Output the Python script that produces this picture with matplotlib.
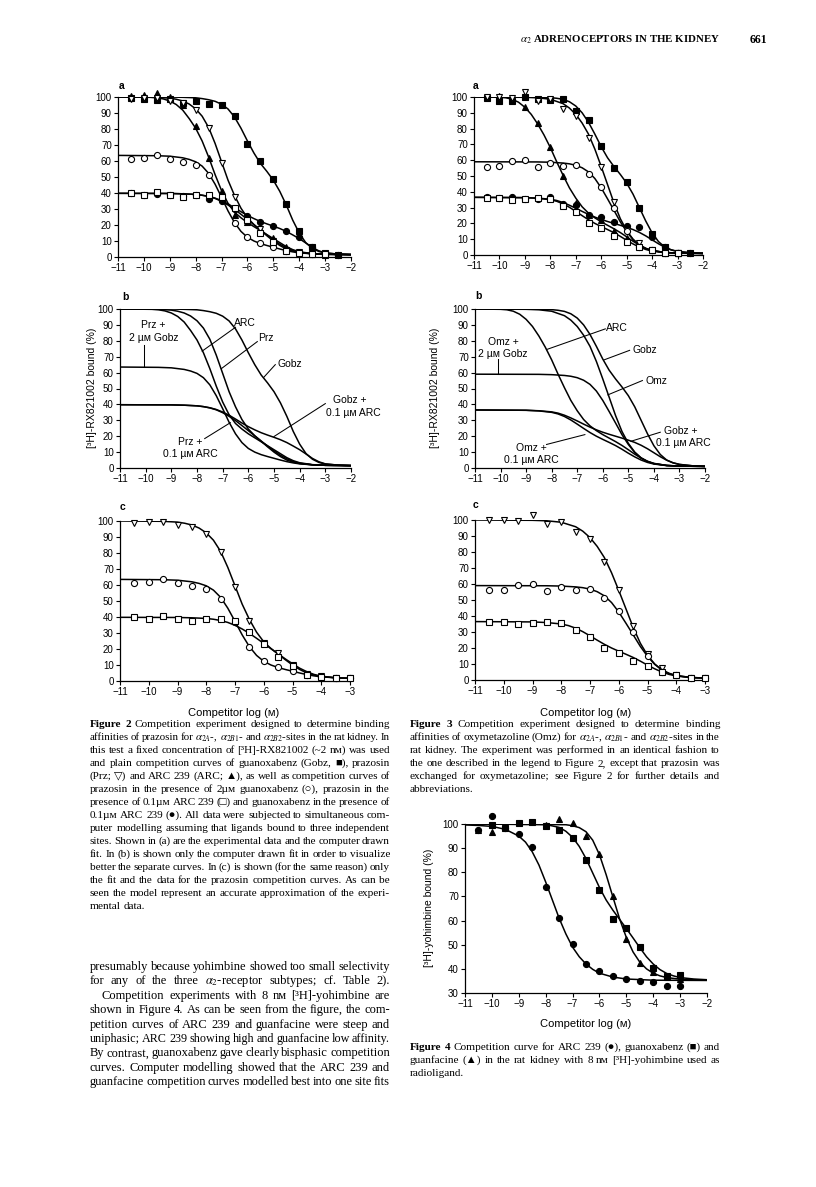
import matplotlib
matplotlib.use('Agg')
import matplotlib.pyplot as plt

W, H = 816, 1187
SANS = ['Liberation Sans', 'DejaVu Sans']
SERIF = ['Liberation Serif', 'DejaVu Sans']
plt.rcParams['font.family'] = SANS
plt.rcParams['mathtext.fontset'] = 'stix'

# ---------------- data (log M, % bound) ----------------
conc = [-10.5, -10, -9.5, -9, -8.5, -8, -7.5, -7, -6.5, -6, -5.5, -5, -4.5, -4, -3.5, -3]
conc_long = conc + [-2.5]

# Figure 2: prazosin experiment
gobz2_y = [99.5, 99, 98, 99, 96.5, 97.5, 95.5, 95, 88, 70.5, 60, 49, 33, 16.5, 6.5, 2.5, 1.5]
arc2_y = [100.5, 101, 102.5, 100, 95, 82, 62, 41, 26, 22, 17.5, 12, 6, 3, 2, 1.5]
prz_y = [98.5, 99.5, 99.5, 97.5, 96, 92, 80.5, 59, 37.5, 24, 17.5, 10, 4.5, 3, 2, 2]
prz_gobz_y = [61.5, 62, 63.5, 61, 59.5, 57.5, 51.5, 37, 21, 12.5, 8.5, 6, 3.5, 2.5, 2, 2]
prz_arc_y = [40, 39, 40.5, 38.5, 37.5, 38.5, 39, 37.5, 30.5, 23, 15, 9.5, 4, 2.5, 2, 2]
gobz_arc2_y = [40, 38.5, 39.5, 38.5, 38, 38.5, 36.5, 35, 30, 25.5, 22, 19.5, 16.5, 12.5, 6.5, 2, 1.5]

# computer drawn fits
gobz2_fx = [-11, -9, -8.5, -8, -7.75, -7.5, -7.25, -7, -6.75, -6.5, -6.25, -6, -5.75, -5.5, -5.25, -5,
            -4.75, -4.5, -4.25, -4, -3.75, -3.5, -3.25, -3, -2.5, -2]
gobz2_fy = [100, 100, 99.8, 99.5, 99, 98.3, 97.3, 95.5, 92.5, 87.5, 80.5, 72.5, 65, 58.5, 53.5, 48,
            41, 32.5, 23, 15, 9, 5.5, 3.5, 2.5, 1.8, 1.5]
prz_fx = [-11, -9.5, -9, -8.75, -8.5, -8.25, -8, -7.75, -7.5, -7.25, -7, -6.75, -6.5, -6.25, -6, -5.75,
          -5.5, -5.25, -5, -4.75, -4.5, -4.25, -4, -3.5, -3, -2]
prz_fy = [100, 99.8, 99.3, 98.6, 97.5, 95.6, 92.6, 88, 81, 71, 59.5, 48, 38.5, 30.5, 24.5, 20.3,
          16.8, 13.3, 10, 7.2, 5, 3.7, 2.8, 2, 1.7, 1.5]
arc2_fx = [-11, -9.75, -9.5, -9.25, -9, -8.75, -8.5, -8.25, -8, -7.75, -7.5, -7.25, -7, -6.75, -6.5,
           -6.25, -6, -5.75, -5.5, -5.25, -5, -4.75, -4.5, -4.25, -4, -3.5, -3, -2]
arc2_fy = [100, 99.8, 99.5, 98.8, 97.5, 95.3, 91.8, 86.5, 80.5, 72.5, 62.5, 51.5, 41.5, 33.5, 28,
           24.5, 21.5, 19, 16.5, 14, 11.5, 9, 6.5, 4.6, 3.3, 2.1, 1.7, 1.5]
prz_gobz_fx = [-11, -9.5, -9, -8.5, -8.25, -8, -7.75, -7.5, -7.25, -7, -6.75, -6.5, -6.25, -6, -5.75,
               -5.5, -5.25, -5, -4.75, -4.5, -4.25, -4, -3.5, -3, -2]
prz_gobz_fy = [63.5, 63.3, 63, 62, 61, 59.5, 56.8, 52.3, 45.5, 37.3, 28.8, 21.5, 16, 12.3, 10,
               8.4, 7.2, 6.1, 5, 4, 3.2, 2.6, 2, 1.7, 1.5]
prz_arc_fx = [-11, -9, -8.5, -8, -7.75, -7.5, -7.25, -7, -6.75, -6.5, -6.25, -6, -5.75, -5.5, -5.25,
              -5, -4.75, -4.5, -4.25, -4, -3.5, -3, -2]
prz_arc_fy = [39.8, 39.7, 39.5, 39.1, 38.6, 37.8, 36.6, 34.8, 32.5, 29.8, 26.7, 23.5, 20.2, 17, 13.8,
              10.8, 8, 5.8, 4.1, 3, 2, 1.7, 1.5]
gobz_arc2_fx = [-11, -9, -8.5, -8, -7.75, -7.5, -7.25, -7, -6.75, -6.5, -6.25, -6, -5.75, -5.5, -5.25,
                -5, -4.75, -4.5, -4.25, -4, -3.75, -3.5, -3.25, -3, -2.5, -2]
gobz_arc2_fy = [39.8, 39.7, 39.5, 39.1, 38.6, 37.9, 36.8, 35.2, 33.2, 30.8, 28.3, 26, 24, 22.2, 20.7,
                19.3, 17.8, 16, 13.8, 11.5, 8.8, 6, 3.9, 2.6, 1.8, 1.5]

# Figure 3: oxymetazoline experiment
gobz3_y = [99.5, 97.5, 97.5, 100, 99, 98, 98.5, 91, 85.5, 69, 55, 46, 30, 13.5, 5, 1.5, 1]
arc3_y = [100, 100.5, 99, 93.5, 83.5, 68.5, 50, 33, 25.5, 22, 15, 11, 6.5, 3, 1.5, 1]
omz_y = [100, 100, 99.5, 103, 97.5, 99, 92.5, 88, 74, 56, 33.5, 16, 7.5, 3, 1.5, 1.5]
omz_gobz_y = [56, 56.5, 59.5, 60, 55.5, 58, 56.5, 57, 51, 43, 30, 15, 5, 3, 1.5, 1.5]
omz_arc_y = [36, 36, 35, 35.5, 36, 35.5, 31, 27, 20, 17, 12, 8.5, 5, 3, 1.5, 1.5]
gobz_arc3_y = [36.5, 36, 37, 35.5, 35.5, 36.5, 32, 31.5, 25.5, 24, 21, 18.5, 17.5, 11.5, 5, 1.5, 1]

gobz3_fx = [-11, -8.5, -8, -7.75, -7.5, -7.25, -7, -6.75, -6.5, -6.25, -6, -5.75, -5.5, -5.25, -5,
            -4.75, -4.5, -4.25, -4, -3.75, -3.5, -3.25, -3, -2.5, -2]
gobz3_fy = [100, 99.9, 99.6, 99.2, 98.5, 97, 94.3, 90, 84, 76.5, 68.5, 61.5, 56, 51, 45.5,
            38.5, 30, 21.5, 14, 8.5, 5, 3.2, 2.2, 1.4, 1]
arc3_fx = [-11, -10, -9.75, -9.5, -9.25, -9, -8.75, -8.5, -8.25, -8, -7.75, -7.5, -7.25, -7, -6.75,
           -6.5, -6.25, -6, -5.75, -5.5, -5.25, -5, -4.75, -4.5, -4.25, -4, -3.5, -3, -2]
arc3_fy = [100, 99.8, 99.5, 98.6, 96.7, 93.5, 89, 83, 76, 68, 59, 50.5, 42.5, 36, 30.5,
           26.5, 23.5, 21, 18.8, 16.6, 14.2, 11.5, 8.7, 6.2, 4.2, 2.9, 1.6, 1.2, 1]
omz_fx = [-11, -9, -8.5, -8, -7.5, -7.25, -7, -6.75, -6.5, -6.25, -6, -5.75, -5.5, -5.25, -5, -4.75,
          -4.5, -4.25, -4, -3.5, -3, -2]
omz_fy = [100, 99.8, 99.5, 98.6, 95.8, 93, 89, 83.5, 76.5, 67, 56, 44.5, 33, 23, 15.5, 10,
          6.4, 4.2, 2.8, 1.6, 1.2, 1]
omz_gobz_fx = [-11, -8.5, -8, -7.5, -7.25, -7, -6.75, -6.5, -6.25, -6, -5.75, -5.5, -5.25, -5, -4.75,
               -4.5, -4.25, -4, -3.5, -3, -2]
omz_gobz_fy = [59, 58.9, 58.7, 58.2, 57.7, 56.8, 55.2, 52.6, 48.4, 42.5, 35.5, 28.3, 21, 14.8, 9.8,
               6.2, 4, 2.7, 1.6, 1.2, 1]
omz_arc_fx = [-11, -9, -8.5, -8, -7.75, -7.5, -7.25, -7, -6.75, -6.5, -6.25, -6, -5.75, -5.5, -5.25,
              -5, -4.75, -4.5, -4.25, -4, -3.5, -3, -2]
omz_arc_fy = [36.5, 36.3, 35.9, 35, 34, 32.4, 30.2, 27.6, 24.9, 22.3, 20, 18, 16.1, 14.1, 11.8,
              9.3, 7, 5, 3.5, 2.5, 1.5, 1.2, 1]
gobz_arc3_fx = [-11, -9, -8.5, -8, -7.75, -7.5, -7.25, -7, -6.75, -6.5, -6.25, -6, -5.75, -5.5, -5.25,
                -5, -4.75, -4.5, -4.25, -4, -3.75, -3.5, -3.25, -3, -2.5, -2]
gobz_arc3_fy = [36.5, 36.3, 36, 35.3, 34.5, 33.2, 31.5, 29.6, 27.6, 25.7, 24, 22.5, 21.2, 20, 18.8,
                17.5, 16.1, 14.3, 12.1, 9.6, 7.1, 4.9, 3.3, 2.3, 1.4, 1]

# Figure 4: [3H]-yohimbine
arc4_y = [97.5, 103.5, 98.5, 96, 90.5, 74, 61, 50.5, 42, 39, 37, 36, 35, 34.5, 33, 32.7]
gobz4_x = [-10, -9.5, -9, -8.5, -8, -7.5, -7, -6.5, -6, -5.5, -5, -4.5, -4, -3.5, -3]
gobz4_y = [99.5, 98.5, 100.5, 100.8, 99, 97.7, 94, 85, 72.5, 60.5, 57, 49, 40.5, 37, 37.5]
guan4_x = [-10.5, -10, -8, -7.5, -7, -6.5, -6, -5.5, -5, -4.5, -4, -3.5, -3]
guan4_y = [97.5, 96.5, 99.5, 102, 100.5, 95, 87.5, 70, 52.5, 42.5, 38.5, 36.5, 36]

arc4_fx = [-11, -10.5, -10, -9.5, -9, -8.75, -8.5, -8.25, -8, -7.75, -7.5, -7.25, -7, -6.75, -6.5,
           -6.25, -6, -5.5, -5, -4, -2]
arc4_fy = [99.6, 99.4, 99, 97.8, 95, 92.5, 88.5, 83, 76, 68.5, 61, 54.5, 49, 45, 42,
           39.8, 38.2, 36.6, 35.8, 35.3, 35.2]
gobz4_fx = [-11, -8, -7.5, -7.25, -7, -6.75, -6.5, -6.25, -6, -5.75, -5.5, -5.25, -5, -4.75, -4.5,
            -4.25, -4, -3.75, -3.5, -3.25, -3, -2.5, -2]
gobz4_fy = [100, 99.8, 98.6, 97, 94.5, 90.7, 85.7, 79.7, 73.7, 68.5, 64.3, 60.5, 56.7, 52.8, 48.8,
            45, 42, 39.7, 38.1, 37.1, 36.4, 35.8, 35.5]
guan4_fx = [-11, -7.25, -7, -6.75, -6.5, -6.25, -6, -5.75, -5.5, -5.25, -5, -4.75, -4.5, -4.25, -4,
            -3.75, -3.5, -3, -2]
guan4_fy = [100, 99.7, 99.3, 98.5, 96.8, 93.3, 87.3, 79, 69.8, 60.7, 53, 47, 42.8, 40, 38.2,
            37.1, 36.4, 35.7, 35.3]

# ---------------- text ----------------
cap2 = [
    "**Figure **2 Competition experiment designed to determine binding",
    r"affinities of prazosin for $\alpha_{2A}$-, $\alpha_{2B1}$- and $\alpha_{2B2}$-sites in the rat kidney. In",
    "this test a fixed concentration of [³H]-RX821002 (~2 nᴍ) was used",
    "and plain competition curves of guanoxabenz (Gobz, ■), prazosin",
    "(Prz; ▽) and ARC 239 (ARC; ▲), as well as competition curves of",
    "prazosin in the presence of 2µᴍ guanoxabenz (○), prazosin in the",
    "presence of 0.1µᴍ ARC 239 (□) and guanoxabenz in the presence of",
    "0.1µᴍ ARC 239 (●). All data were subjected to simultaneous com-",
    "puter modelling assuming that ligands bound to three independent",
    "sites. Shown in (a) are the experimental data and the computer drawn",
    "fit. In (b) is shown only the computer drawn fit in order to visualize",
    "better the separate curves. In (c) is shown (for the same reason) only",
    "the fit and the data for the prazosin competition curves. As can be",
    "seen the model represent an accurate approximation of the experi-",
    "mental data.",
]
cap3 = [
    "**Figure **3 Competition experiment designed to determine binding",
    r"affinities of oxymetazoline (Omz) for $\alpha_{2A}$-, $\alpha_{2B1}$- and $\alpha_{2B2}$-sites in the",
    "rat kidney. The experiment was performed in an identical fashion to",
    "the one described in the legend to Figure 2, except that prazosin was",
    "exchanged for oxymetazoline; see Figure 2 for further details and",
    "abbreviations.",
]
cap4 = [
    "**Figure **4 Competition curve for ARC 239 (●), guanoxabenz (■) and",
    "guanfacine (▲) in the rat kidney with 8 nᴍ [³H]-yohimbine used as",
    "radioligand.",
]
body = [
    "presumably because yohimbine showed too small selectivity",
    r"for any of the three $\alpha_2$-receptor subtypes; cf. Table 2).",
    "Competition experiments with 8 nᴍ [³H]-yohimbine are",
    "shown in Figure 4. As can be seen from the figure, the com-",
    "petition curves of ARC 239 and guanfacine were steep and",
    "uniphasic; ARC 239 showing high and guanfacine low affinity.",
    "By contrast, guanoxabenz gave clearly bisphasic competition",
    "curves. Computer modelling showed that the ARC 239 and",
    "guanfacine competition curves modelled best into one site fits",
]

# ---------------- drawing ----------------
fig = plt.figure(figsize=(W / 100, H / 100), dpi=100)
fig.patch.set_facecolor('white')

MK = {
    'gobz': dict(marker='s', mfc='k'),
    'prz': dict(marker='v', mfc='white'),
    'arc': dict(marker='^', mfc='k'),
    'pg': dict(marker='o', mfc='white'),
    'pa': dict(marker='s', mfc='white'),
    'ga': dict(marker='o', mfc='k'),
}


def make_axes(x0, x1, ytop, ybot, xmax=-2, ymin=0):
    ax = fig.add_axes([x0 / W, 1 - ybot / H, (x1 - x0) / W, (ybot - ytop) / H])
    ax.set_xlim(-11, xmax)
    ax.set_ylim(ymin, 100)
    ax.set_xticks(list(range(-11, xmax + 1)))
    ax.set_yticks(list(range(ymin, 101, 10)))
    for s in ['top', 'right']:
        ax.spines[s].set_visible(False)
    for s in ['left', 'bottom']:
        ax.spines[s].set_linewidth(0.9)
    ax.tick_params(direction='out', length=3, width=0.8, labelsize=7, pad=1.5)
    ax.patch.set_alpha(0)
    return ax


def pts(ax, x, y, key):
    ax.plot(x, y, ls='none', ms=4.4, mec='k', mew=0.8, clip_on=False, zorder=3, **MK[key])


def fit(ax, x, y):
    ax.plot(x, y, color='k', lw=1.1, zorder=2)


def leader(ax, x1, y1, x2, y2):
    ax.plot([x1, x2], [y1, y2], color='k', lw=0.75, clip_on=False)


def lab(ax, x, y, s):
    ax.text(x, y, s, ha='center', va='center', fontsize=7.5)


fits2 = [(gobz2_fx, gobz2_fy), (prz_fx, prz_fy), (arc2_fx, arc2_fy),
         (prz_gobz_fx, prz_gobz_fy), (prz_arc_fx, prz_arc_fy), (gobz_arc2_fx, gobz_arc2_fy)]
fits3 = [(gobz3_fx, gobz3_fy), (omz_fx, omz_fy), (arc3_fx, arc3_fy),
         (omz_gobz_fx, omz_gobz_fy), (omz_arc_fx, omz_arc_fy), (gobz_arc3_fx, gobz_arc3_fy)]

# Fig 2a
ax = make_axes(118, 351, 97, 257)
for fx, fy in fits2:
    fit(ax, fx, fy)
pts(ax, conc_long, gobz2_y, 'gobz')
pts(ax, conc_long, gobz_arc2_y, 'ga')
pts(ax, conc, arc2_y, 'arc')
pts(ax, conc, prz_y, 'prz')
pts(ax, conc, prz_gobz_y, 'pg')
pts(ax, conc, prz_arc_y, 'pa')
fig.text(119 / W, 1 - 86 / H, 'a', fontsize=7.5, fontweight='bold', va='center')

# Fig 2b
ax = make_axes(120, 351, 309, 468)
for fx, fy in fits2:
    fit(ax, fx, fy)
lab(ax, -9.7, 90, 'Prz +')
lab(ax, -9.7, 82, '2 µᴍ Gobz')
leader(ax, -10.05, 77.5, -10.05, 63.5)
lab(ax, -6.15, 91, 'ARC')
leader(ax, -6.5, 88.5, -7.8, 73.5)
lab(ax, -5.3, 81.5, 'Prz')
leader(ax, -5.65, 79.5, -7.05, 62.5)
lab(ax, -4.4, 65.5, 'Gobz')
leader(ax, -4.95, 65, -5.4, 57)
lab(ax, -2.05, 42.5, 'Gobz +')
lab(ax, -1.9, 34.5, '0.1 µᴍ ARC')
leader(ax, -3.0, 40.5, -5.0, 19.8)
lab(ax, -8.25, 16.5, 'Prz +')
lab(ax, -8.25, 8.9, '0.1 µᴍ ARC')
leader(ax, -7.7, 18.5, -6.7, 28.5)
fig.text(122 / W, 1 - 297 / H, 'b', fontsize=7.5, fontweight='bold', va='center')
fig.text(92 / W, 1 - 388 / H, '[³H]-RX821002 bound (%)', rotation=90, fontsize=7.5,
         ha='center', va='center')

# Fig 2c
ax = make_axes(120, 350, 521, 681, xmax=-3)
for fx, fy in fits2[1:2] + fits2[3:5]:
    fit(ax, fx, fy)
pts(ax, conc, prz_y, 'prz')
pts(ax, conc, prz_gobz_y, 'pg')
pts(ax, conc, prz_arc_y, 'pa')
fig.text(120 / W, 1 - 507 / H, 'c', fontsize=7.5, fontweight='bold', va='center')
fig.text(234 / W, 1 - 713 / H, 'Competitor log (ᴍ)', fontsize=8, ha='center', va='center')

# Fig 3a
ax = make_axes(474, 703, 97, 255)
for fx, fy in fits3:
    fit(ax, fx, fy)
pts(ax, conc_long, gobz3_y, 'gobz')
pts(ax, conc_long, gobz_arc3_y, 'ga')
pts(ax, conc, arc3_y, 'arc')
pts(ax, conc, omz_y, 'prz')
pts(ax, conc, omz_gobz_y, 'pg')
pts(ax, conc, omz_arc_y, 'pa')
fig.text(473 / W, 1 - 86 / H, 'a', fontsize=7.5, fontweight='bold', va='center')

# Fig 3b
ax = make_axes(475, 705, 309, 468)
for fx, fy in fits3:
    fit(ax, fx, fy)
lab(ax, -9.9, 79.5, 'Omz +')
lab(ax, -9.9, 72, '2 µᴍ Gobz')
leader(ax, -10.1, 68.5, -10.1, 59)
lab(ax, -5.45, 88, 'ARC')
leader(ax, -5.9, 87.5, -8.2, 74.5)
lab(ax, -4.35, 74.5, 'Gobz')
leader(ax, -4.95, 74, -5.95, 68)
lab(ax, -3.9, 55, 'Omz')
leader(ax, -4.45, 55, -5.8, 46)
lab(ax, -2.95, 23, 'Gobz +')
lab(ax, -2.85, 16, '0.1 µᴍ ARC')
leader(ax, -3.75, 22.5, -4.9, 16.8)
lab(ax, -8.8, 12.5, 'Omz +')
lab(ax, -8.8, 4.8, '0.1 µᴍ ARC')
leader(ax, -8.2, 14.8, -6.7, 21)
fig.text(475 / W, 1 - 296 / H, 'b', fontsize=7.5, fontweight='bold', va='center')
fig.text(435 / W, 1 - 388 / H, '[³H]-RX821002 bound (%)', rotation=90, fontsize=7.5,
         ha='center', va='center')

# Fig 3c
ax = make_axes(475, 705, 520, 680, xmax=-3)
for fx, fy in fits3[1:2] + fits3[3:5]:
    fit(ax, fx, fy)
pts(ax, conc, omz_y, 'prz')
pts(ax, conc, omz_gobz_y, 'pg')
pts(ax, conc, omz_arc_y, 'pa')
fig.text(473 / W, 1 - 505 / H, 'c', fontsize=7.5, fontweight='bold', va='center')
fig.text(586 / W, 1 - 713 / H, 'Competitor log (ᴍ)', fontsize=8, ha='center', va='center')

# Fig 4
ax = make_axes(465, 707, 824, 993, ymin=30)
fit(ax, arc4_fx, arc4_fy)
fit(ax, gobz4_fx, gobz4_fy)
fit(ax, guan4_fx, guan4_fy)
pts(ax, conc, arc4_y, 'ga')
pts(ax, gobz4_x, gobz4_y, 'gobz')
pts(ax, guan4_x, guan4_y, 'arc')
fig.text(429 / W, 1 - 908 / H, '[³H]-yohimbine bound (%)', rotation=90, fontsize=7.5,
         ha='center', va='center')
fig.text(586 / W, 1 - 1024 / H, 'Competitor log (ᴍ)', fontsize=8, ha='center', va='center')

# running head
fig.text(520 / W, 1 - 40 / H, r'$\alpha_2$ ADRENOCEPTORS IN THE KIDNEY', fontsize=7.8,
         family=SERIF, fontweight='bold', va='center')
fig.text(750 / W, 1 - 40 / H, '661', fontsize=8.5, family=SERIF, fontweight='bold', va='center')


def put_line(text, x0, x1, yc, size, justify=True, indent=0):
    words = text.split()
    arts = []
    for w in words:
        bold = w.startswith('**')
        arts.append(fig.text(0, 1 - (yc + 3) / H, w.replace('**', ''), fontsize=size,
                             family=SERIF, fontweight='bold' if bold else 'normal',
                             va='baseline', ha='left'))
    r = fig.canvas.get_renderer()
    ws = [a.get_window_extent(r).width for a in arts]
    avail = x1 - x0 - indent
    need = sum(ws) + 2.0 * (len(arts) - 1)
    if need > avail:
        # squeeze an over-long line so it still fits the column
        for a in arts:
            a.set_fontsize(size * avail / need)
        ws = [a.get_window_extent(r).width for a in arts]
    gap = size * 0.27 * 100 / 72
    if justify and len(arts) > 1:
        gap = (avail - sum(ws)) / (len(arts) - 1)
    x = x0 + indent
    for a, w in zip(arts, ws):
        a.set_x(x / W)
        x += w + gap


def put_block(lines, x0, x1, y0, step, size, last_full=False, indents=None):
    for i, line in enumerate(lines):
        just = last_full or i < len(lines) - 1
        ind = indents.get(i, 0) if indents else 0
        put_line(line, x0, x1, y0 + i * step, size, justify=just, indent=ind)


put_block(cap2, 90, 390, 724, 13.0, 8.1)
put_block(cap3, 410, 720, 724, 13.0, 8.1)
put_block(cap4, 410, 720, 1047, 13.2, 8.1)
put_block(body, 90, 390, 967, 14.4, 9.0, last_full=True, indents={2: 12})

fig.savefig('out.png', dpi=100, facecolor='white')
